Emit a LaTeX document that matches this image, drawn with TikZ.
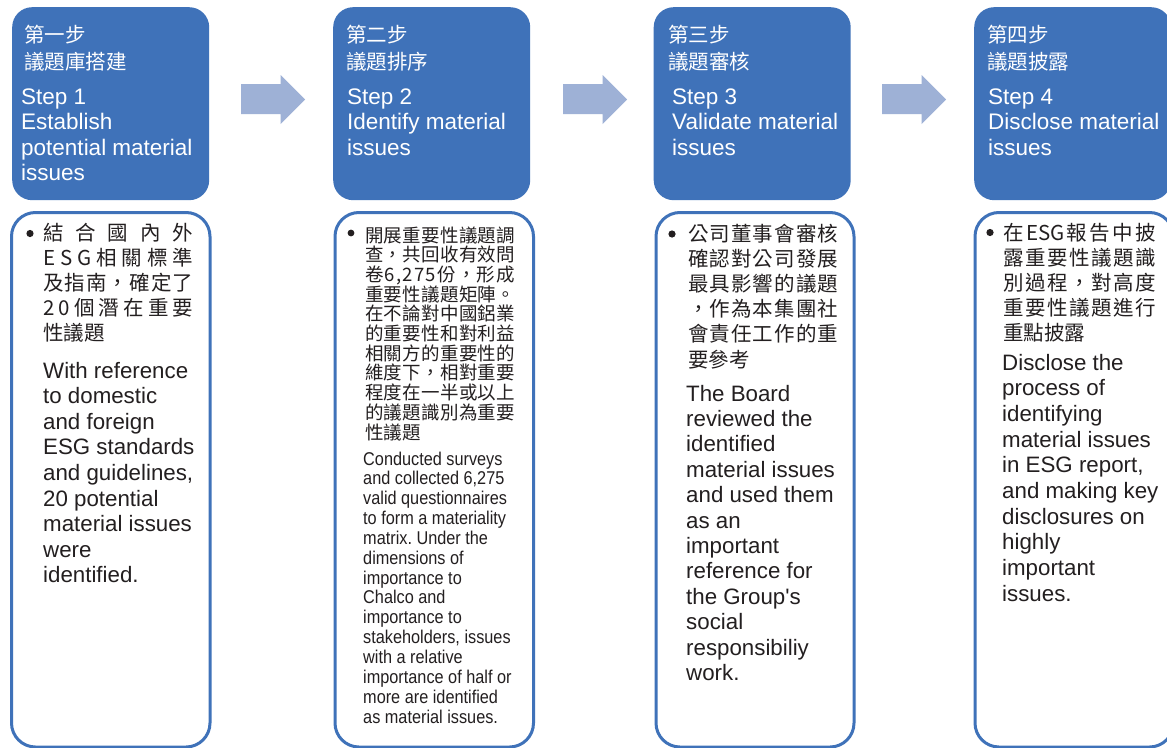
\documentclass[tikz,border=0pt]{standalone}
\usepackage{fontspec}
\setmainfont{Liberation Sans}
\newfontfamily\cjk{Noto Sans CJK TC}
\newfontfamily\condf[FakeStretch=0.88]{Liberation Sans}
\definecolor{hdrblue}{HTML}{3F72B9}
\definecolor{arrblue}{HTML}{9EB1D6}
\definecolor{inkc}{HTML}{231F20}
\newcommand\jl[2]{\makebox[#1][s]{#2}}
\frenchspacing
\begin{document}
\begin{tikzpicture}[x=1pt,y=-1pt,
  hdr/.style={fill=hdrblue, draw=none, rounded corners=20pt, inner sep=0pt, anchor=north west, minimum width=197pt, minimum height=193pt},
  card/.style={draw=hdrblue, line width=3pt, rounded corners=24pt, fill=white, inner sep=0pt, anchor=north west, minimum width=198.5pt, minimum height=534.5pt},
  flowarrow/.style={fill=arrblue},
  hcjk/.style={anchor=base west, inner sep=0pt, text=white, font=\cjk\fontsize{20.5}{24}\selectfont},
  heng/.style={anchor=base west, inner sep=0pt, text=white, font=\fontsize{22.5}{26}\selectfont},
  bcjk/.style={anchor=base west, inner sep=0pt, text=inkc, font=\cjk\fontsize{20.5}{24}\selectfont},
  bcjks/.style={anchor=base west, inner sep=0pt, text=inkc, font=\cjk\fontsize{18.5}{20}\selectfont},
  beng/.style={anchor=base west, inner sep=0pt, text=inkc, font=\fontsize{22.3}{26}\selectfont},
  bcond/.style={anchor=base west, inner sep=0pt, text=inkc, font=\condf\fontsize{18.5}{20}\selectfont},
  dot/.style={fill=inkc}
]
\useasboundingbox (0,0) rectangle (1167,747);
\fill[white] (0,0) rectangle (1167,747);

% header boxes
\node[hdr] (h1) at (12,7) {};
\node[hdr] (h2) at (333,7) {};
\node[hdr] (h3) at (653.5,7) {};
\node[hdr] (h4) at (974,7) {};

% body cards
\node[card] (b1) at (10,211) {};
\node[card] (b2) at (333.5,211) {};
\node[card, minimum width=198pt] (b3) at (654.5,211) {};
\node[card] (b4) at (973.5,211) {};

% block arrows
\foreach \dx in {0,322,641}{
  \fill[flowarrow] (241+\dx,84) -- (280.5+\dx,84) -- (280.5+\dx,75) -- (305+\dx,99.5)
    -- (280.5+\dx,124) -- (280.5+\dx,114) -- (241+\dx,114) -- cycle;
}

% header texts
\node[hcjk] (h1a) at (24,42) {第一步};
\node[hcjk] (h1b) at (24,69) {議題庫搭建};
\foreach \t [count=\i from 0] in {Step 1, Establish, potential material, issues}
  \node[heng, name=h1e\i] at (21,104+25.5*\i) {\t};

\node[hcjk] (h2a) at (346,42) {第二步};
\node[hcjk] (h2b) at (346,69) {議題排序};
\foreach \t [count=\i from 0] in {Step 2, Identify material, issues}
  \node[heng, name=h2e\i] at (347,104+25.5*\i) {\t};

\node[hcjk] (h3a) at (668,42) {第三步};
\node[hcjk] (h3b) at (668,69) {議題審核};
\foreach \t [count=\i from 0] in {Step 3, Validate material, issues}
  \node[heng, name=h3e\i] at (672,104+25.5*\i) {\t};

\node[hcjk] (h4a) at (987,42) {第四步};
\node[hcjk] (h4b) at (987,69) {議題披露};
\foreach \t [count=\i from 0] in {Step 4, Disclose material, issues}
  \node[heng, name=h4e\i] at (988,104+25.5*\i) {\t};

% bullets
\fill[dot] (30,233.5) circle (3.6pt);
\fill[dot] (351,233) circle (3.4pt);
\fill[dot] (672,234) circle (3.6pt);
\fill[dot] (990,232.5) circle (3.6pt);

% box 1 body
\foreach \t [count=\i from 0] in {
  {\jl{150pt}{結\hfill 合\hfill 國\hfill 內\hfill 外}},
  {\jl{150pt}{E\hfill S\hfill G\hfill 相\hfill 關\hfill 標\hfill 準}},
  {\jl{150pt}{及\hfill 指\hfill 南\hfill ，\hfill 確\hfill 定\hfill 了}},
  {\jl{150pt}{2\hfill 0\hfill 個\hfill 潛\hfill 在\hfill 重\hfill 要}},
  {性議題}}
  \node[bcjk, name=c1l\i] at (43,240.5+25*\i) {\t};
\foreach \t [count=\i from 0] in {With reference, to domestic, and foreign, ESG standards,
  {and guidelines,}, 20 potential, material issues, were, identified.}
  \node[beng, name=e1l\i] at (43,378+25.6*\i) {\t};

% box 2 body
\foreach \t [count=\i from 0] in {
  {\jl{150pt}{開\hfill 展\hfill 重\hfill 要\hfill 性\hfill 議\hfill 題\hfill 調}},
  {\jl{150pt}{查\hfill ，\hfill 共\hfill 回\hfill 收\hfill 有\hfill 效\hfill 問}},
  {\jl{150pt}{卷\hfill 6\hfill ,\hfill 2\hfill 7\hfill 5\hfill 份\hfill ，\hfill 形\hfill 成}},
  {\jl{150pt}{重\hfill 要\hfill 性\hfill 議\hfill 題\hfill 矩\hfill 陣\hfill 。}},
  {\jl{150pt}{在\hfill 不\hfill 論\hfill 對\hfill 中\hfill 國\hfill 鋁\hfill 業}},
  {\jl{150pt}{的\hfill 重\hfill 要\hfill 性\hfill 和\hfill 對\hfill 利\hfill 益}},
  {\jl{150pt}{相\hfill 關\hfill 方\hfill 的\hfill 重\hfill 要\hfill 性\hfill 的}},
  {\jl{150pt}{維\hfill 度\hfill 下\hfill ，\hfill 相\hfill 對\hfill 重\hfill 要}},
  {\jl{150pt}{程\hfill 度\hfill 在\hfill 一\hfill 半\hfill 或\hfill 以\hfill 上}},
  {\jl{150pt}{的\hfill 議\hfill 題\hfill 識\hfill 別\hfill 為\hfill 重\hfill 要}},
  {性議題}}
  \node[bcjks, name=c2l\i] at (365,242+19.7*\i) {\t};
\foreach \t [count=\i from 0] in {Conducted surveys, {and collected 6,275}, valid questionnaires,
  to form a materiality, matrix. Under the, dimensions of, importance to, Chalco and,
  importance to, {stakeholders, issues}, with a relative, importance of half or,
  more are identified, as material issues.}
  \node[bcond, name=e2l\i] at (363,465+19.85*\i) {\t};

% box 3 body
\foreach \t [count=\i from 0] in {
  {\jl{150pt}{公\hfill 司\hfill 董\hfill 事\hfill 會\hfill 審\hfill 核}},
  {\jl{150pt}{確\hfill 認\hfill 對\hfill 公\hfill 司\hfill 發\hfill 展}},
  {\jl{150pt}{最\hfill 具\hfill 影\hfill 響\hfill 的\hfill 議\hfill 題}},
  {\jl{150pt}{，\hfill 作\hfill 為\hfill 本\hfill 集\hfill 團\hfill 社}},
  {\jl{150pt}{會\hfill 責\hfill 任\hfill 工\hfill 作\hfill 的\hfill 重}},
  {要參考}}
  \node[bcjk, name=c3l\i] at (688,241+25.2*\i) {\t};
\foreach \t [count=\i from 0] in {The Board, reviewed the, identified, material issues,
  and used them, as an, important, reference for, the Group\textquotesingle s, social, responsibiliy, work.}
  \node[beng, name=e3l\i] at (686,401+25.4*\i) {\t};

% box 4 body
\foreach \t [count=\i from 0] in {
  {\jl{153pt}{在\hfill ESG\hfill 報\hfill 告\hfill 中\hfill 披}},
  {\jl{153pt}{露\hfill 重\hfill 要\hfill 性\hfill 議\hfill 題\hfill 識}},
  {\jl{153pt}{別\hfill 過\hfill 程\hfill ，\hfill 對\hfill 高\hfill 度}},
  {\jl{153pt}{重\hfill 要\hfill 性\hfill 議\hfill 題\hfill 進\hfill 行}},
  {重點披露}}
  \node[bcjk, name=c4l\i] at (1003,240.5+25*\i) {\t};
\foreach \t [count=\i from 0] in {Disclose the, process of, identifying, material issues,
  {in ESG report,}, and making key, disclosures on, highly, important, issues.}
  \node[beng, name=e4l\i] at (1002,370+25.7*\i) {\t};
\end{tikzpicture}
\end{document}
